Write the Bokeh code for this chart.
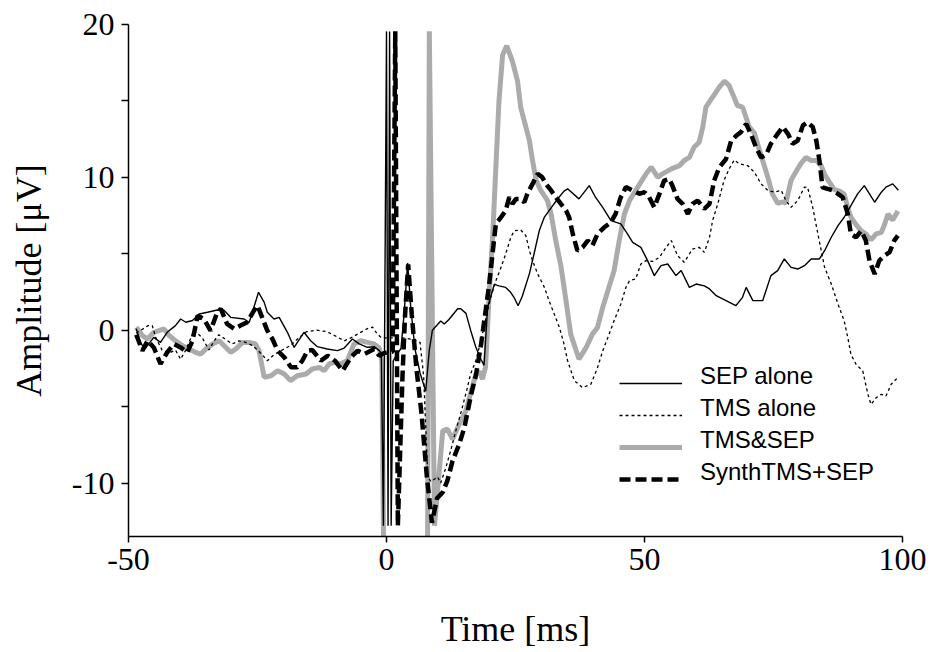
from bokeh.plotting import figure
from bokeh.models import Range1d, FixedTicker, Legend, LegendItem
from bokeh.embed import file_html
from bokeh.resources import INLINE

# ---------------- data ----------------
x_ticks = [-50, 0, 50, 100]
y_ticks = [-10, 0, 10, 20]
y_minor = [-5, 5, 15]
x_tick_labels = {-50: "-50", 0: "0", 50: "50", 100: "100"}
y_tick_labels = {-10: "-10", 0: "0", 10: "10", 20: "20"}

sep_t = [-48.5, -47.6, -46.7, -45.1, -43.8, -42.5, -40.9, -39.9, -38.9, -37.6, -36.3, -34.7,
         -32.8, -31.5, -30.2, -27.6, -26.6, -25.7, -24.8, -23.7, -23.1, -21.8, -20.8, -19.2,
         -17.9, -16.0, -14.7, -13.4, -11.5, -9.5, -8.2, -6.6, -5.3, -3.7, -2.4, -1.4, -1.0,
         -0.6, 0.0, 0.3, 0.6, 0.9, 1.3, 2.0, 2.8, 3.4, 4.1, 4.7, 5.5, 6.5, 7.6, 8.3, 8.9, 10.5, 11.2,
         12.1, 13.8, 14.4, 15.4, 16.3, 17.3, 18.3, 18.9, 19.6, 20.9, 21.8, 23.1, 24.0, 24.7,
         25.5, 26.3, 27.7, 28.6, 29.6, 30.6, 31.9, 33.2, 34.4, 35.1, 37.3, 39.3, 40.5, 41.9,
         43.5, 45.4, 46.7, 47.7, 49.3, 50.6, 51.9, 53.2, 54.5, 56.1, 57.1, 58.7, 60.0, 61.6,
         62.6, 63.9, 65.8, 67.7, 69.0, 69.7, 71.0, 72.9, 74.5, 75.8, 77.1, 78.4, 79.7, 81.0,
         82.3, 83.9, 84.9, 86.2, 87.5, 88.7, 90.0, 91.3, 92.6, 93.6, 94.6, 95.9, 96.8, 98.1,
         99.2]
sep_v = [0.1, -0.9, -1.17, -0.47, -0.8, -0.14, 0.3, 0.73, 0.52, 0.63, 1.06, 1.17,
         1.32, 1.3, 0.84, 0.73, 0.52, 1.5, 2.48, 1.82, 1.17, 0.73, 0.84, -0.14,
         -1.13, -0.14, -0.69, -1.08, -1.23, -1.34, -1.17, -0.58, -0.9, -1.12, -1.08, -1.34, -1.5,
         -12.8, 19.55, -12.8, 19.55, -12.8, -2.0, -1.6, -1.2, 1.0, 4.4, 1.5, -1.2, -2.8, -4.0, -1.3, 0.0, 0.6, 0.4,
         0.7, 1.4, 1.4, 1.1, 0.0, -1.1, -1.9, -2.3, 1.5, 3.0, 2.9, 2.8, 2.5, 2.15,
         1.6, 2.2, 3.7, 5.0, 6.5, 7.4, 8.0, 8.6, 9.1, 9.25, 8.59, 9.46, 8.7, 8.04,
         7.17, 6.95, 6.3, 5.75, 5.42, 4.55, 3.57, 4.22, 4.33, 3.57, 3.9, 2.8, 3.02, 2.9,
         2.7, 2.26, 1.93, 1.6, 2.15, 2.8, 1.93, 1.93, 3.57, 3.9, 4.66, 4.11, 4.0, 4.22,
         4.66, 4.66, 5.2, 6.08, 6.84, 7.39, 8.15, 8.92, 9.46, 8.92, 8.37, 9.03, 9.36, 9.57,
         9.15]

tms_t = [-48.5, -47.6, -46.2, -45.4, -44.7, -43.5, -42.2, -40.9, -39.9, -38.9, -37.3, -35.7,
         -34.4, -33.4, -32.5, -31.2, -29.9, -28.6, -27.3, -26.0, -25.0, -24.1, -23.1, -21.8,
         -20.2, -18.6, -17.0, -15.5, -13.5, -11.5, -9.8, -8.2, -6.9, -5.3, -3.7, -2.7, -1.9,
         -1.0, 0.5, 3.0, 5.0, 6.5, 7.2, 8.0, 8.6, 9.9, 10.5, 11.5, 12.5, 13.5, 14.5, 15.5,
         16.3, 17.3, 18.3, 19.3, 20.2, 21.2, 22.2, 23.1, 24.1, 24.75, 26.0, 27.0, 27.7, 28.3,
         29.3, 30.6, 31.5, 32.5, 33.5, 34.4, 35.1, 36.4, 38.0, 39.6, 40.9, 41.9, 42.9, 44.1,
         45.4, 46.4, 47.1, 48.3, 49.3, 50.3, 51.6, 52.9, 54.2, 55.2, 56.4, 57.7, 59.3, 60.6,
         61.6, 62.6, 63.2, 64.2, 65.4, 66.4, 67.4, 68.4, 70.0, 71.3, 72.6, 73.9, 75.2, 76.5,
         77.4, 78.4, 79.7, 81.0, 81.6, 82.6, 83.6, 84.9, 86.2, 87.5, 88.7, 89.4, 90.0, 91.0,
         92.3, 93.3, 93.9, 94.9, 95.9, 96.8, 97.8, 99.1]
tms_v = [-0.2, 0.0, 0.3, 0.3, -0.5, -1.3, -1.5, -1.3, -1.9, -1.3, 0.0, -0.5,
         -1.3, -0.7, -0.3, -0.6, -0.9, -0.7, -0.8, -1.0, -1.3, -1.6, -2.0, -1.6,
         -1.3, -1.0, -0.5, -0.1, 0.0, -0.1, -0.4, -0.7, -0.5, -0.2, 0.1, 0.2, -0.2,
         -0.5, -0.5, -0.5, -0.6, -0.8, -3.0, -9.6, -9.9, -9.6, -10.0, -9.0, -7.8, -6.5, -5.3, -4.0,
         -2.87, -2.0, -0.69, 0.84, 2.15, 3.24, 4.11, 4.99, 6.08, 6.5, 6.56, 6.19, 5.2, 4.55,
         3.68, 2.8, 1.93, 1.06, 0.19, -0.9, -2.0, -3.3, -3.76, -3.54, -2.45, -1.36, -0.48, 0.61,
         1.7, 2.8, 3.24, 3.35, 4.33, 4.55, 4.5, 4.77, 5.42, 5.86, 4.88, 4.44, 5.31, 5.42,
         5.09, 6.08, 7.17, 8.26, 9.79, 10.55, 11.14, 10.88, 10.77, 10.33, 9.57, 9.14, 9.03, 9.14,
         8.48, 8.04, 8.48, 9.36, 9.36, 8.04, 6.3, 4.11, 3.02, 1.71, 0.61, -0.48, -1.58, -2.23,
         -2.67, -4.2, -4.86, -4.42, -4.2, -4.31, -3.54, -3.1]

both_t = [-48.5, -47.3, -46.3, -45.1, -44.1, -43.1, -42.1, -40.9, -39.6, -38.3, -37.0, -36.0,
          -35.0, -33.7, -32.4, -31.5, -30.2, -29.2, -27.9, -26.6, -25.4, -24.7, -23.7, -22.4,
          -21.1, -19.8, -18.6, -17.3, -15.6, -14.4, -13.0, -12.1, -11.1, -10.1, -8.9, -7.6,
          -6.3, -5.0, -3.7, -2.4, -1.4, -0.9, -0.4, 7.9, 8.3, 9.3, 10.9, 11.8, 12.8, 14.1,
          15.4, 16.4, 17.3, 18.0, 18.6, 19.2, 19.9, 20.6, 21.2, 21.8, 22.5, 23.3, 24.4, 25.4,
          26.0, 27.0, 27.7, 28.3, 29.0, 29.9, 31.2, 31.9, 32.8, 33.8, 34.8, 35.7, 37.3, 38.7,
          39.9, 40.9, 41.9, 42.9, 44.1, 45.1, 46.1, 47.1, 48.7, 50.3, 51.3, 52.6, 53.5, 55.2,
          56.8, 57.7, 58.7, 59.6, 60.6, 61.3, 61.9, 62.9, 63.5, 64.5, 65.5, 66.4, 67.4, 68.0,
          69.0, 69.7, 70.3, 71.3, 71.9, 72.9, 73.9, 74.8, 75.8, 76.8, 77.4, 78.4, 79.4, 80.3,
          81.3, 82.3, 83.3, 84.2, 84.9, 85.8, 86.8, 87.8, 88.7, 89.4, 90.0, 91.0, 92.0, 92.9,
          93.9, 94.9, 95.9, 96.5, 97.2, 98.1, 99.1]
both_v = [0.19, -0.36, -0.58, -0.14, -0.03, 0.08, -0.36, -0.69, -1.01, -1.23, -1.45, -1.56,
          -1.23, -0.9, -0.69, -1.01, -1.45, -1.23, -0.8, -0.8, -0.9, -1.34, -3.09, -2.98,
          -2.65, -2.87, -3.3, -2.98, -2.87, -2.54, -2.43, -2.65, -2.21, -2.1, -2.21, -1.99,
          -0.9, -0.69, -0.8, -0.9, -1.17, -2.0, -20.0, -20.0, 19.55, -12.8, -6.58, -6.47, -7.13, -6.14,
          -5.27, -4.0, -2.9, -2.7, -3.2, -2.4, 2.4, 6.3, 10.7, 15.0, 18.0, 18.6, 17.6, 16.3,
          14.6, 13.3, 12.4, 11.1, 9.8, 9.14, 8.48, 7.6, 5.86, 4.2, 1.9, -0.26, -1.89, -1.13,
          -0.26, 0.18, 1.49, 2.58, 3.89, 5.86, 7.6, 8.48, 9.36, 10.23, 10.66, 10.0, 10.23, 10.55,
          10.77, 11.1, 11.3, 11.97, 12.3, 13.3, 14.6, 15.1, 15.4, 15.9, 16.3, 16.0, 15.2, 14.7,
          14.6, 13.9, 13.3, 12.9, 12.2, 11.1, 10.0, 8.9, 8.3, 8.4, 8.3, 9.8, 10.4, 10.9,
          11.3, 11.1, 11.1, 10.8, 10.2, 9.7, 9.2, 9.1, 8.9, 8.0, 7.4, 6.9, 6.5, 6.3,
          5.9, 6.3, 6.4, 6.9, 7.6, 7.2, 7.8]

synth_t = [-48.5, -47.3, -46.3, -45.1, -43.8, -42.5, -41.2, -39.9, -38.6, -37.6, -36.6, -35.4,
           -34.1, -32.8, -32.1, -30.9, -29.5, -28.3, -27.0, -25.7, -25.0, -24.1, -23.1, -22.1,
           -21.1, -19.8, -18.5, -17.3, -16.3, -15.3, -14.4, -12.7, -11.4, -10.0, -8.5, -6.9,
           -5.6, -4.3, -2.4, -1.4, -0.5, 1.2, 1.7, 2.2, 3.1, 3.6, 4.2, 4.9, 5.8, 6.8, 7.8, 8.8,
           9.8, 10.9, 11.8, 12.8, 14.1, 15.1, 16.4, 17.3, 18.3, 19.3, 19.9, 20.9, 21.2, 22.2,
           23.1, 23.8, 24.4, 25.1, 26.0, 26.7, 27.3, 28.3, 29.3, 30.2, 30.9, 31.9, 32.8, 33.8,
           34.8, 35.4, 36.1, 37.0, 38.0, 39.0, 39.9, 40.9, 42.2, 43.5, 44.4, 45.4, 46.4, 47.7,
           49.0, 50.0, 50.9, 51.9, 52.9, 53.8, 54.8, 55.4, 56.4, 57.4, 58.4, 59.3, 60.3, 61.6,
           62.6, 63.5, 64.5, 65.8, 66.8, 67.7, 68.7, 69.7, 70.6, 71.6, 72.6, 73.6, 74.5, 75.8,
           76.8, 77.8, 78.7, 79.7, 80.7, 81.6, 82.6, 83.3, 83.9, 84.5, 85.5, 86.5, 87.5, 88.4,
           89.4, 90.0, 91.0, 92.0, 92.9, 93.6, 94.6, 95.5, 96.5, 97.5, 98.4, 99.1]
synth_v = [-0.3, -1.34, -0.69, -1.13, -2.21, -1.45, -0.9, -1.13, -1.45, -0.69, 0.95, 0.73,
           -0.03, 1.17, 1.39, 0.41, 0.08, 0.3, 0.52, 1.28, 1.61, 0.84, -0.03, -0.58,
           -1.34, -1.78, -2.43, -2.43, -1.99, -1.34, -1.3, -1.99, -1.67, -2.0, -2.65, -1.78,
           -1.34, -1.56, -1.23, -1.67, -1.5, -1.4, 19.55, -12.8, -3.0, 1.0, 4.3, 1.0, -2.5, -5.5, -9.5, -12.6,
           -11.0, -10.6, -9.85, -8.55, -7.45, -6.36, -4.2, -3.0, -1.0, 1.5, 3.0, 6.08, 6.95, 7.39,
           7.83, 8.7, 8.26, 8.59, 8.59, 8.37, 8.92, 9.57, 10.23, 10.0, 9.57, 9.14, 8.7, 8.26,
           7.83, 7.39, 6.3, 5.2, 5.42, 5.86, 5.53, 6.3, 6.73, 7.06, 7.61, 8.7, 9.36, 9.14,
           8.92, 9.03, 8.7, 8.04, 8.92, 9.79, 9.9, 9.46, 8.59, 8.26, 7.61, 8.26, 8.48, 7.94,
           8.26, 9.79, 10.66, 11.2, 12.4, 12.7, 12.96, 13.5, 12.85, 11.97, 11.3, 11.5, 12.2, 12.85,
           13.3, 12.85, 12.2, 12.4, 13.4, 13.6, 13.3, 12.4, 11.1, 9.35, 9.24, 9.14, 8.92, 8.7,
           7.61, 6.3, 6.08, 6.5, 5.86, 4.55, 3.68, 4.55, 4.88, 5.1, 5.86, 6.19]

labels = ["SEP alone", "TMS alone", "TMS&SEP", "SynthTMS+SEP"]

# ---------------- figure ----------------
p = figure(width=934, height=652, x_range=Range1d(-50, 100), y_range=Range1d(-13.5, 20),
           output_backend="svg", toolbar_location=None,
           min_border_left=128, min_border_right=32, min_border_top=24, min_border_bottom=116)
p.xgrid.visible = False
p.ygrid.visible = False
p.outline_line_color = None
p.background_fill_color = "white"
p.border_fill_color = "white"

serif = "Liberation Serif"
for ax in (p.xaxis[0], p.yaxis[0]):
    ax.axis_line_color = "black"
    ax.axis_line_width = 1.5
    ax.major_tick_line_color = "black"
    ax.major_tick_line_width = 1.5
    ax.major_tick_in = 0
    ax.major_label_text_font = serif
    ax.major_label_text_font_size = "32px"
    ax.major_label_text_color = "black"
    ax.axis_label_text_font = serif
    ax.axis_label_text_font_size = "36px"
    ax.axis_label_text_font_style = "normal"
    ax.axis_label_text_color = "black"

p.xaxis.ticker = FixedTicker(ticks=x_ticks)
p.xaxis.major_label_overrides = x_tick_labels
p.xaxis.major_tick_out = 6
p.xaxis.minor_tick_line_color = None
p.xaxis.major_label_standoff = 6
p.xaxis.axis_label = "Time [ms]"
p.xaxis.axis_label_standoff = 36

p.yaxis.ticker = FixedTicker(ticks=y_ticks, minor_ticks=y_minor)
p.yaxis.major_label_overrides = y_tick_labels
p.yaxis.major_tick_out = 7
p.yaxis.minor_tick_out = 7
p.yaxis.minor_tick_in = 0
p.yaxis.minor_tick_line_color = "black"
p.yaxis.minor_tick_line_width = 1.5
p.yaxis.major_label_standoff = 7
p.yaxis.axis_label = "Amplitude [μV]"
p.yaxis.axis_label_standoff = 20

r_both = p.line(both_t, both_v, line_color="#ababab", line_width=5)
r_synth = p.line(synth_t, synth_v, line_color="black", line_width=4.5, line_dash="11 5")
r_sep = p.line(sep_t, sep_v, line_color="black", line_width=1.4)
r_tms = p.line(tms_t, tms_v, line_color="black", line_width=1.3, line_dash="3 3")

# invisible stand-ins so the legend texts can sit a little above their line samples
ghosts = [p.line(x=[], y=[], line_alpha=0) for _ in labels]


def style_legend(lg):
    lg.padding = 0
    lg.margin = 0
    lg.spacing = 0
    lg.glyph_width = 63
    lg.glyph_height = 32
    lg.label_height = 32
    lg.label_standoff = 18
    lg.label_text_font = "Liberation Sans"
    lg.label_text_font_size = "24px"
    lg.label_text_color = "black"
    lg.border_line_color = None
    lg.background_fill_alpha = 0


legend_lines = Legend(items=[LegendItem(label=" ", renderers=[r]) for r in (r_sep, r_tms, r_both, r_synth)],
                      location=(491, 41))
style_legend(legend_lines)
legend_text = Legend(items=[LegendItem(label=lab, renderers=[g]) for lab, g in zip(labels, ghosts)],
                     location=(491, 48))
style_legend(legend_text)
p.add_layout(legend_lines)
p.add_layout(legend_text)

open("out.html", "w").write(file_html(p, INLINE))
